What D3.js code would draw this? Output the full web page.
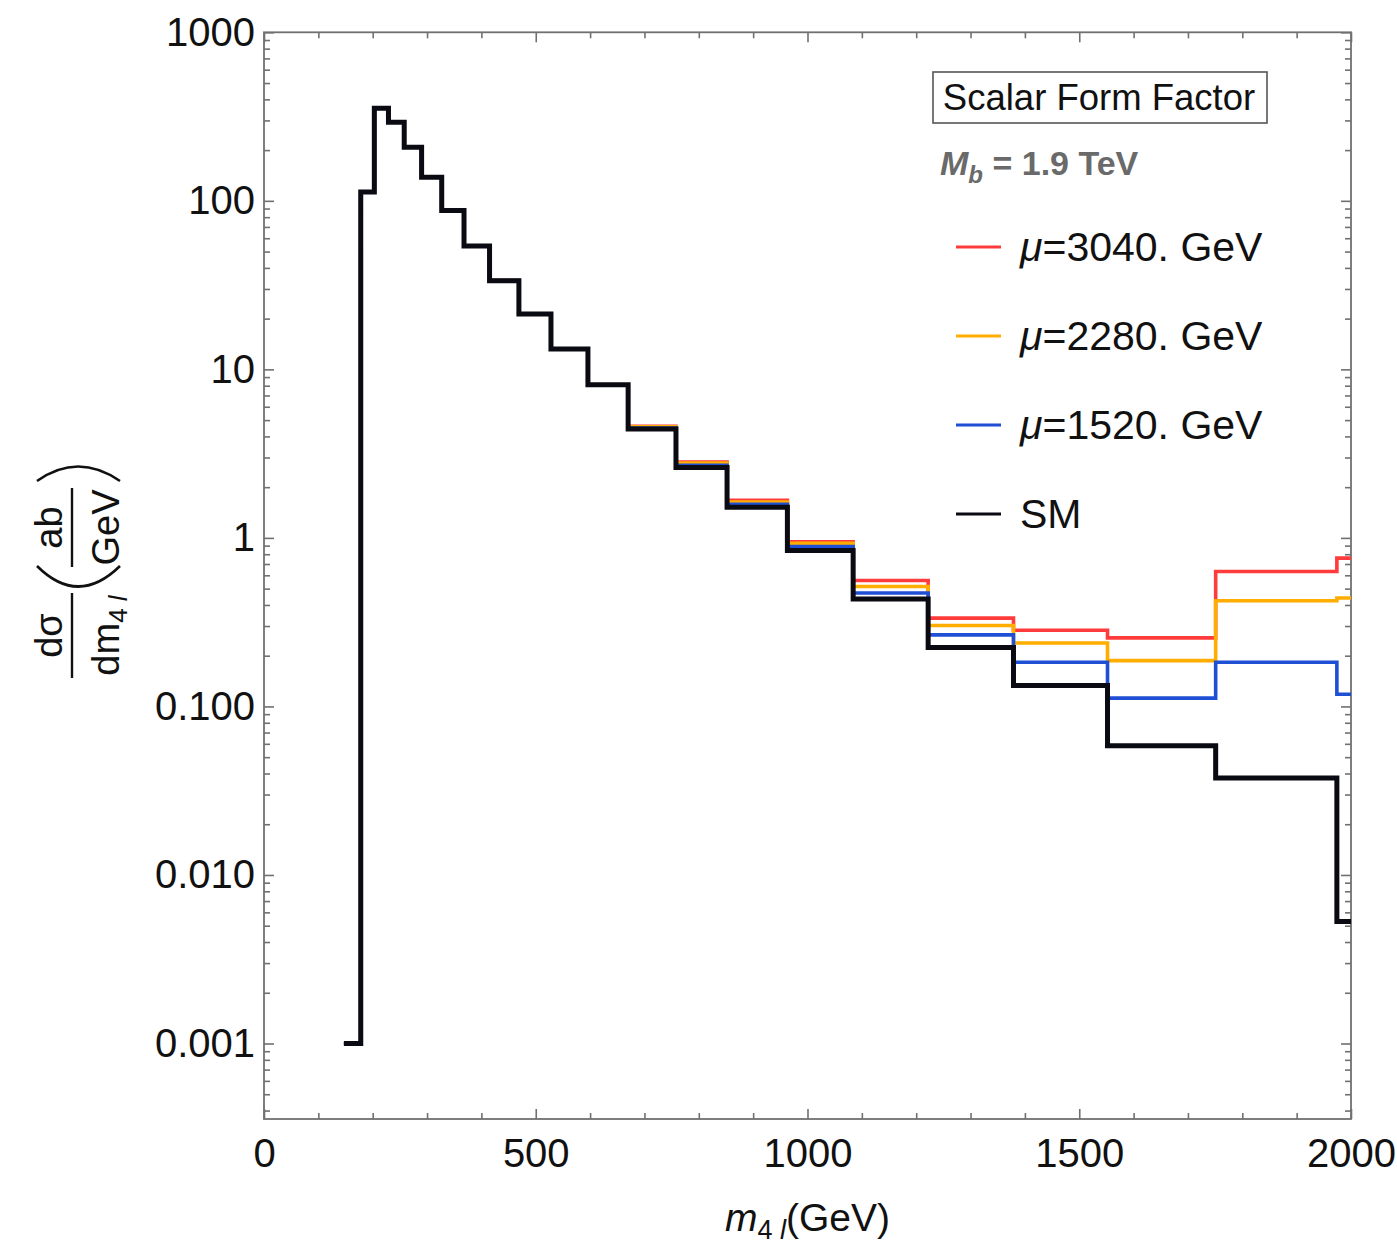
<!DOCTYPE html>
<html>
<head>
<meta charset="utf-8">
<script src="https://cdn.jsdelivr.net/npm/d3@7"></script>
<style>
  html, body { margin: 0; padding: 0; background: #fff; }
  svg { display: block; font-family: "Liberation Sans", Arial, Helvetica, sans-serif; }
</style>
</head>
<body>
<svg id="chart" width="1397" height="1250"></svg>
<script>
// ---------------- data ----------------
const binEdges = [147, 178, 203, 229, 258, 290, 327, 368, 415, 469, 528, 596, 670, 758, 852, 963, 1084, 1222, 1379, 1552, 1751, 1974, 2030];
const smValues     = [0.001, 113, 354, 293, 208, 138, 87.5, 54, 33.6, 21.3, 13.2, 8.1, 4.42, 2.62, 1.52, 0.842, 0.434, 0.224, 0.133, 0.0585, 0.0376, 0.0053];
const mu1520Values = [0.001, 113, 354, 293, 208, 138, 87.5, 54, 33.6, 21.3, 13.2, 8.1, 4.48, 2.70, 1.58, 0.889, 0.471, 0.266, 0.183, 0.112, 0.183, 0.118];
const mu2280Values = [0.001, 113, 354, 293, 208, 138, 87.5, 54, 33.6, 21.3, 13.2, 8.1, 4.56, 2.78, 1.63, 0.930, 0.515, 0.302, 0.238, 0.187, 0.424, 0.440];
const mu3040Values = [0.001, 113, 354, 293, 208, 138, 87.5, 54, 33.6, 21.3, 13.2, 8.1, 4.60, 2.82, 1.67, 0.948, 0.559, 0.334, 0.283, 0.255, 0.632, 0.759];

const seriesNames  = ["μ=3040. GeV", "μ=2280. GeV", "μ=1520. GeV", "SM"];
const seriesMu     = ["3040", "2280", "1520", null];
const seriesColors = ["#ff3b3b", "#ffae00", "#1f4fd4", "#0a0a12"];
const seriesWidths = [3.6, 3.6, 3.6, 5];
const seriesData   = [mu3040Values, mu2280Values, mu1520Values, smValues];

const xMajorTicks = [0, 500, 1000, 1500, 2000];
const xTickLabels = ["0", "500", "1000", "1500", "2000"];
const yMajorTicks = [0.001, 0.01, 0.1, 1, 10, 100, 1000];
const yTickLabels = ["0.001", "0.010", "0.100", "1", "10", "100", "1000"];

const legendTitle = "Scalar Form Factor";

// ---------------- layout ----------------
const L = 264, R = 1351, T = 32.3, B = 1119;
const yMin = Math.pow(10, -3 - (B - 1043.5) / 168.53);

const svg = d3.select("#chart");
const x = d3.scaleLinear().domain([0, 2000]).range([L, R]);
const y = d3.scaleLog().domain([yMin, 1000]).range([B, T]);

const axisColor = "#707070";

// minor tick values
const xMinorTicks = d3.range(100, 2000, 100).filter(v => v % 500 !== 0);
const yMinorTicks = [];
for (let e = -4; e <= 2; e++) {
  for (let m = 2; m <= 9; m++) {
    const v = m * Math.pow(10, e);
    if (v >= yMin && v <= 1000) yMinorTicks.push(v);
  }
}

// clip
svg.append("defs").append("clipPath").attr("id", "plotclip")
  .append("rect").attr("x", L).attr("y", T).attr("width", R - L).attr("height", B - T);

// ---------------- axes ----------------
function styleAxis(g) {
  g.select(".domain").remove();
  g.selectAll(".tick line").attr("stroke", axisColor).attr("stroke-width", 1.6);
  g.selectAll(".tick text").attr("fill", "#111").style("font-size", "40px");
}

svg.append("g").attr("transform", `translate(0,${B})`)
  .call(d3.axisBottom(x).tickValues(xMajorTicks).tickSize(-10).tickPadding(20)
    .tickFormat((d, i) => xTickLabels[i]))
  .call(styleAxis);
svg.append("g").attr("transform", `translate(0,${B})`)
  .call(d3.axisBottom(x).tickValues(xMinorTicks).tickSize(-6).tickFormat(""))
  .call(styleAxis);
svg.append("g").attr("transform", `translate(0,${T})`)
  .call(d3.axisTop(x).tickValues(xMajorTicks).tickSize(-10).tickFormat(""))
  .call(styleAxis);
svg.append("g").attr("transform", `translate(0,${T})`)
  .call(d3.axisTop(x).tickValues(xMinorTicks).tickSize(-6).tickFormat(""))
  .call(styleAxis);

svg.append("g").attr("transform", `translate(${L},0)`)
  .call(d3.axisLeft(y).tickValues(yMajorTicks).tickSize(-10).tickPadding(9)
    .tickFormat((d, i) => yTickLabels[i]))
  .call(styleAxis);
svg.append("g").attr("transform", `translate(${L},0)`)
  .call(d3.axisLeft(y).tickValues(yMinorTicks).tickSize(-6).tickFormat(""))
  .call(styleAxis);
svg.append("g").attr("transform", `translate(${R},0)`)
  .call(d3.axisRight(y).tickValues(yMajorTicks).tickSize(-10).tickFormat(""))
  .call(styleAxis);
svg.append("g").attr("transform", `translate(${R},0)`)
  .call(d3.axisRight(y).tickValues(yMinorTicks).tickSize(-6).tickFormat(""))
  .call(styleAxis);

svg.selectAll("g text").attr("font-family", null);

// frame
svg.append("rect").attr("x", L).attr("y", T).attr("width", R - L).attr("height", B - T)
  .attr("fill", "none").attr("stroke", axisColor).attr("stroke-width", 1.8);

// ---------------- histogram lines ----------------
const line = d3.line().x(d => x(d[0])).y(d => y(d[1])).curve(d3.curveStepAfter);
const linesG = svg.append("g").attr("clip-path", "url(#plotclip)");
seriesData.forEach((vals, si) => {
  const pts = vals.map((v, i) => [binEdges[i], v]);
  pts.push([binEdges[binEdges.length - 1], vals[vals.length - 1]]);
  linesG.append("path").datum(pts)
    .attr("d", line)
    .attr("fill", "none")
    .attr("stroke", seriesColors[si])
    .attr("stroke-width", seriesWidths[si])
    .attr("stroke-linejoin", "miter");
});

// ---------------- legend ----------------
svg.append("rect").attr("x", 933).attr("y", 72).attr("width", 334).attr("height", 51)
  .attr("fill", "#fff").attr("stroke", "#555").attr("stroke-width", 1.6);
svg.append("text").attr("x", 1099).attr("y", 110).attr("text-anchor", "middle")
  .style("font-size", "36.5px").attr("fill", "#111").text(legendTitle);

const mb = svg.append("text").attr("x", 940).attr("y", 175)
  .style("font-size", "34px").style("font-weight", "bold").attr("fill", "#6a6a6a");
mb.append("tspan").style("font-style", "italic").text("M");
mb.append("tspan").style("font-style", "italic").style("font-size", "24px").attr("dy", 8).text("b");
mb.append("tspan").attr("dy", -8).text(" = 1.9 TeV");

const legendY = [247, 336, 425, 514];
seriesNames.forEach((name, i) => {
  svg.append("line").attr("x1", 956).attr("x2", 1001)
    .attr("y1", legendY[i]).attr("y2", legendY[i])
    .attr("stroke", seriesColors[i]).attr("stroke-width", 3.2);
  const t = svg.append("text").attr("x", 1020).attr("y", legendY[i] + 14)
    .style("font-size", "41px").attr("fill", "#111");
  if (seriesMu[i]) {
    t.append("tspan").style("font-style", "italic").text("μ");
    t.append("tspan").text("=" + seriesMu[i] + ". GeV");
  } else {
    t.text(name);
  }
});

// ---------------- x-axis title ----------------
const xt = svg.append("text").attr("x", (L + R) / 2).attr("y", 1231).attr("text-anchor", "middle")
  .style("font-size", "39px").attr("fill", "#111");
xt.append("tspan").style("font-style", "italic").text("m");
xt.append("tspan").style("font-size", "27px").attr("dy", 8).text("4 ");
xt.append("tspan").style("font-size", "27px").style("font-style", "italic").text("l");
xt.append("tspan").attr("dy", -8).text("(GeV)");

// ---------------- y-axis title (rotated) ----------------
const yl = svg.append("g").attr("transform", "translate(72,0) rotate(-90)");
// fraction 1: dσ / dm4l   (local u = -screenY, v = screenX - 72)
yl.append("line").attr("x1", -678).attr("x2", -593).attr("y1", 0).attr("y2", 0)
  .attr("stroke", "#111").attr("stroke-width", 2.4);
yl.append("text").attr("x", -635.5).attr("y", -10).attr("text-anchor", "middle")
  .style("font-size", "38px").attr("fill", "#111").text("dσ");
const den = yl.append("text").attr("x", -635.5).attr("y", 47).attr("text-anchor", "middle")
  .style("font-size", "38px").attr("fill", "#111");
den.append("tspan").text("dm");
den.append("tspan").style("font-size", "26px").attr("dy", 8).text("4 ");
den.append("tspan").style("font-size", "26px").style("font-style", "italic").text("l");
// fraction 2: ab / GeV
yl.append("line").attr("x1", -567).attr("x2", -488).attr("y1", 0).attr("y2", 0)
  .attr("stroke", "#111").attr("stroke-width", 2.4);
yl.append("text").attr("x", -527.5).attr("y", -10).attr("text-anchor", "middle")
  .style("font-size", "38px").attr("fill", "#111").text("ab");
yl.append("text").attr("x", -527.5).attr("y", 47).attr("text-anchor", "middle")
  .style("font-size", "38px").attr("fill", "#111").text("GeV");
// parentheses
svg.append("path").attr("d", "M37,566 Q78,607 120,566")
  .attr("fill", "none").attr("stroke", "#111").attr("stroke-width", 2.6);
svg.append("path").attr("d", "M37,481 Q78,452 120,481")
  .attr("fill", "none").attr("stroke", "#111").attr("stroke-width", 2.6);
</script>
</body>
</html>
